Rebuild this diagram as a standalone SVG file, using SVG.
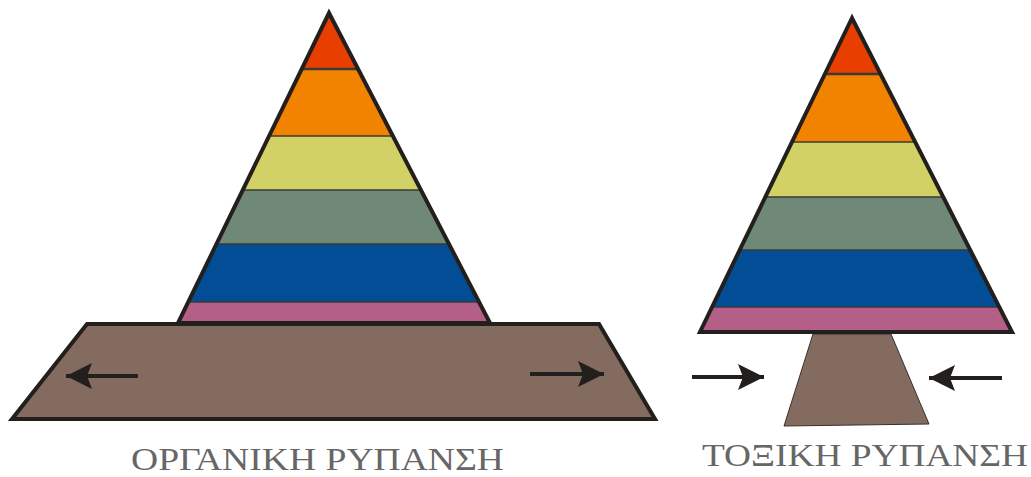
<svg xmlns="http://www.w3.org/2000/svg" width="1031" height="477" viewBox="0 0 1031 477">
<style>
.out{fill:none;stroke:#231f1c;stroke-width:4;stroke-linejoin:miter}
.div{stroke:#3a3a36;stroke-width:1.6}
.brown{fill:#836b60}
.arr{stroke:#231f1c;stroke-width:4;fill:none}
.lbl{font-family:"Liberation Serif","DejaVu Serif",serif;font-size:31px;fill:#666666}
.c1{fill:#e83e00}.c2{fill:#f28300}.c3{fill:#d2d166}.c4{fill:#6f8878}.c5{fill:#034d97}.c6{fill:#b35f87}
</style>
<defs>
<clipPath id="clipL"><polygon points="329,13 178,323 490,323"/></clipPath>
<clipPath id="clipR"><polygon points="852,18 700,332 1012,332"/></clipPath>
<marker id="head" markerUnits="userSpaceOnUse" markerWidth="28" markerHeight="26" refX="27" refY="13" orient="auto" viewBox="0 0 28 26">
<path d="M27,13 L1,0 L6,13 L1,26 Z" fill="#231f1c"/>
</marker>
</defs>

<g id="organic-base">
<polygon class="brown" points="87,324 599,324 655,419 12,419"/>
<polygon class="out" points="87,324 599,324 655,419 12,419"/>
</g>

<g id="organic-pyramid">
<g clip-path="url(#clipL)">
<rect class="c1" x="170" y="0" width="330" height="69"/>
<rect class="c2" x="170" y="69" width="330" height="67"/>
<rect class="c3" x="170" y="136" width="330" height="54"/>
<rect class="c4" x="170" y="190" width="330" height="54"/>
<rect class="c5" x="170" y="244" width="330" height="58"/>
<rect class="c6" x="170" y="302" width="330" height="22"/>
<line class="div" x1="170" y1="69" x2="500" y2="69" style="stroke-width:2.5"/>
<line class="div" x1="170" y1="136" x2="500" y2="136"/>
<line class="div" x1="170" y1="190" x2="500" y2="190"/>
<line class="div" x1="170" y1="244" x2="500" y2="244"/>
<line class="div" x1="170" y1="302" x2="500" y2="302"/>
</g>
<polygon class="out" points="329,13 178,323 490,323"/>
</g>

<g id="toxic-trunk">
<polygon class="brown" points="813,334 891,334 929,424 784,426" stroke="#3a302c" stroke-width="1"/>
</g>

<g id="toxic-pyramid">
<g clip-path="url(#clipR)">
<rect class="c1" x="690" y="0" width="330" height="74"/>
<rect class="c2" x="690" y="74" width="330" height="68"/>
<rect class="c3" x="690" y="142" width="330" height="55"/>
<rect class="c4" x="690" y="197" width="330" height="53"/>
<rect class="c5" x="690" y="250" width="330" height="57"/>
<rect class="c6" x="690" y="307" width="330" height="26"/>
<line class="div" x1="690" y1="74" x2="1020" y2="74" style="stroke-width:2.5"/>
<line class="div" x1="690" y1="142" x2="1020" y2="142"/>
<line class="div" x1="690" y1="197" x2="1020" y2="197"/>
<line class="div" x1="690" y1="250" x2="1020" y2="250"/>
<line class="div" x1="690" y1="307" x2="1020" y2="307"/>
</g>
<polygon class="out" points="852,18 700,332 1012,332"/>
</g>

<g id="connectors">
<line class="arr" x1="138" y1="376" x2="66" y2="376" marker-end="url(#head)"/>
<line class="arr" x1="530" y1="374" x2="604" y2="374" marker-end="url(#head)"/>
<line class="arr" x1="692" y1="377" x2="764" y2="377" marker-end="url(#head)"/>
<line class="arr" x1="1002" y1="378" x2="929" y2="378" marker-end="url(#head)"/>
</g>

<g id="labels">
<text class="lbl" x="131" y="470" textLength="373" lengthAdjust="spacingAndGlyphs">ΟΡΓΑΝΙΚΗ ΡΥΠΑΝΣΗ</text>
<text class="lbl" x="702" y="466" textLength="326" lengthAdjust="spacingAndGlyphs">ΤΟΞΙΚΗ ΡΥΠΑΝΣΗ</text>
</g>
</svg>
